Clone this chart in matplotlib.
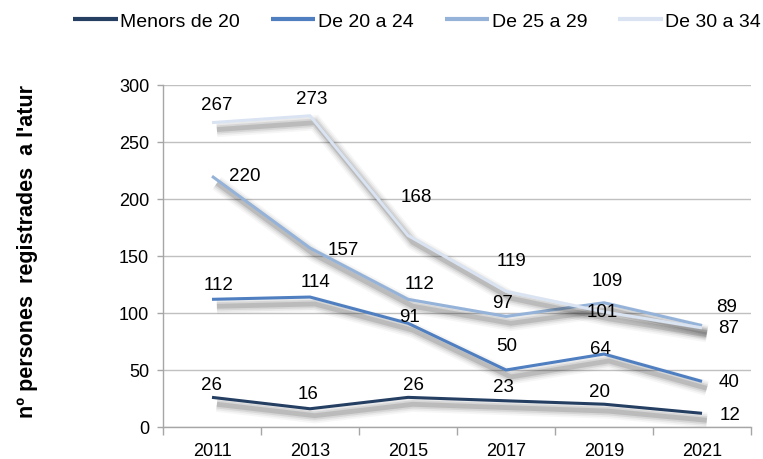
import matplotlib
matplotlib.use("Agg")
import matplotlib.pyplot as plt
import matplotlib.patheffects as pe
from matplotlib.ticker import FixedLocator

plt.rcParams['font.family'] = ['Liberation Sans', 'DejaVu Sans']

years = ['2011', '2013', '2015', '2017', '2019', '2021']
series_names = ['Menors de 20', 'De 20 a 24', 'De 25 a 29', 'De 30 a 34']
menors_20 = [26, 16, 26, 23, 20, 12]
de_20_24 = [112, 114, 91, 50, 64, 40]
de_25_29 = [220, 157, 112, 97, 109, 89]
de_30_34 = [267, 273, 168, 119, 101, 87]
values = [menors_20, de_20_24, de_25_29, de_30_34]

colors = ['#253F63', '#4F7FC0', '#95B3D9', '#D9E3F1']

# label offsets in pixels (dx, dy)
label_offsets = [
    [(0, 13), (-2, 15), (5, 13), (-3, 14), (-4, 13), (28, -1)],
    [(7, 15), (5, 16), (1, 7), (1, 24), (-4, 6), (27, 0)],
    [(33, 1), (33, -1), (12, 16), (-3, 14), (3, 22), (25, 19)],
    [(5, 18), (2, 17), (8, 39), (6, 31), (-2, 0), (27, 0)],
]

fig = plt.figure(figsize=(7.63, 4.60), dpi=100)
ax = fig.add_axes([163 / 763, 32 / 460, (751 - 163) / 763, (428 - 86) / 460])

x = list(range(len(years)))

shadow = [
    pe.SimpleLineShadow(offset=(3.5, -5), shadow_color='#000000', alpha=0.035, linewidth=11),
    pe.SimpleLineShadow(offset=(3.5, -5), shadow_color='#000000', alpha=0.05, linewidth=8.5),
    pe.SimpleLineShadow(offset=(3.5, -5), shadow_color='#000000', alpha=0.08, linewidth=6),
    pe.SimpleLineShadow(offset=(3.5, -5), shadow_color='#000000', alpha=0.12, linewidth=3.5),
    pe.Normal(),
]

for name, vals, col, offs in zip(series_names, values, colors, label_offsets):
    ax.plot(x, vals, color=col, lw=2.2, label=name, path_effects=shadow,
            solid_capstyle='butt', solid_joinstyle='miter', zorder=3)
    for xi, v, (dx, dy) in zip(x, vals, offs):
        ax.annotate(str(v), (xi, v), xytext=(dx, dy), textcoords='offset pixels',
                    ha='center', va='center', fontsize=13.5, color='#000000', zorder=5)

ax.set_xlim(-0.5, len(years) - 0.5)
ax.set_ylim(0, 300)
ax.set_yticks(range(0, 301, 50))
ax.set_xticks(x)
ax.set_xticklabels(years)
ax.xaxis.set_minor_locator(FixedLocator([i - 0.5 for i in range(len(years) + 1)]))
ax.tick_params(axis='x', which='major', length=0, pad=11, labelsize=13)
ax.tick_params(axis='x', which='minor', length=6, color='#A6A6A6', width=1)
ax.tick_params(axis='y', which='major', length=4, color='#A6A6A6', width=1, pad=6, labelsize=13)

ax.grid(axis='y', color='#C0C0C0', lw=1, zorder=0)
ax.set_axisbelow(True)
for s in ['top', 'right']:
    ax.spines[s].set_visible(False)
for s in ['left', 'bottom']:
    ax.spines[s].set_color('#A6A6A6')
    ax.spines[s].set_linewidth(1)

fig.text(28 / 763, (460 - 251) / 460, "nº persones  registrades  a l'atur", rotation=90,
         ha='center', va='center', fontsize=15.5, fontweight='bold')

handles, labels = ax.get_legend_handles_labels()
leg = fig.legend(handles, labels, loc='center', bbox_to_anchor=(417 / 763, 1 - 22 / 460),
                 ncol=4, frameon=False, fontsize=14, handlelength=2.3, handletextpad=0.12,
                 columnspacing=1.6)
for h in leg.legend_handles:
    h.set_linewidth(3)
    h.set_path_effects([])

fig.savefig('out.png', dpi=100)
